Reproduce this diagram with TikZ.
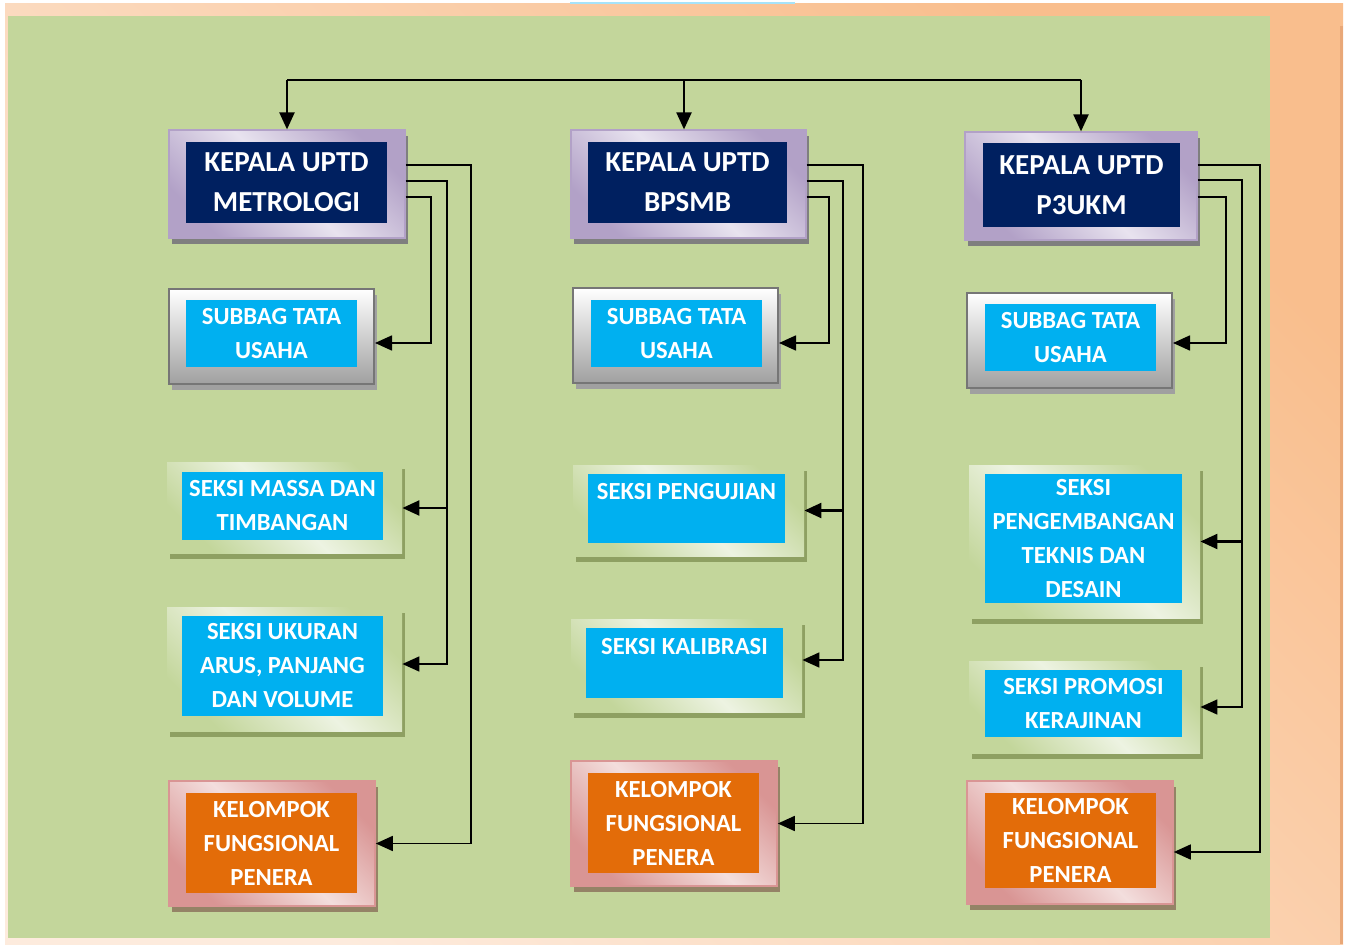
\documentclass[tikz,border=0pt]{standalone}
\usepackage{fontspec}
\setmainfont{Carlito}
\usetikzlibrary{arrows.meta,shadows}

\definecolor{panel}{HTML}{C3D69B}
\definecolor{peachdark}{HTML}{F9BE8D}
\definecolor{peachlight}{HTML}{FDEBDD}
\definecolor{peachedge}{HTML}{E9A878}
\definecolor{navy}{HTML}{002060}
\definecolor{cyanbox}{HTML}{00B0F0}
\definecolor{orangebox}{HTML}{E36C09}
\definecolor{headdark}{HTML}{B2A1C7}
\definecolor{headlight}{HTML}{E8E3EF}
\definecolor{headshade}{HTML}{7F7F7F}
\definecolor{subdark}{HTML}{A0A0A0}
\definecolor{subedge}{HTML}{767676}
\definecolor{seksidark}{HTML}{C3D69B}
\definecolor{seksilight}{HTML}{EDF3E2}
\definecolor{seksishade}{HTML}{8EA062}
\definecolor{keldark}{HTML}{D99594}
\definecolor{kellight}{HTML}{F3DEDD}
\definecolor{kelshade}{HTML}{948366}

\newcommand{\hdfont}{\fontsize{14.5}{20}\selectfont\bfseries}
\newcommand{\cellfnt}{\fontsize{12.3}{17}\selectfont\bfseries}

\begin{document}
\begin{tikzpicture}[x=0.5pt,y=-0.5pt,
  headbox/.style={draw=headdark, line width=0.6pt, top color=headdark, bottom color=headdark,
    middle color=headlight, shading angle=-45,
    drop shadow={shadow xshift=1.5pt, shadow yshift=-3pt, fill=headshade, opacity=1}},
  subbox/.style={draw=subedge, line width=1pt, top color=white, bottom color=subdark,
    drop shadow={shadow xshift=1.5pt, shadow yshift=-3pt, fill=subdark, opacity=1}},
  seksibox/.style={top color=seksidark, bottom color=seksidark, middle color=seksilight,
    shading angle=-45,
    drop shadow={shadow xshift=1.5pt, shadow yshift=-3pt, fill=seksishade, opacity=1}},
  kelbox/.style={draw=keldark, line width=0.8pt, top color=keldark, bottom color=keldark,
    middle color=kellight, shading angle=-45,
    drop shadow={shadow xshift=1.5pt, shadow yshift=-3pt, fill=kelshade, opacity=1}},
  headtext/.style={fill=navy, text=white, font=\hdfont, align=center, inner sep=0pt},
  celltext/.style={fill=cyanbox, text=white, font=\cellfnt, align=center, inner sep=0pt},
  keltext/.style={fill=orangebox, text=white, font=\cellfnt, align=center, inner sep=0pt},
  feed/.style={line width=0.8pt, -{Triangle[length=8.5pt,width=7.5pt]}},
  toarrow/.style={line width=1.1pt, -{Triangle[length=8.5pt,width=7.5pt]}},
  topline/.style={line width=1.3pt}
]
\useasboundingbox (0,0) rectangle (1349,946);
\fill[white] (0,0) rectangle (1349,946);

% frame and panel
\shade[top color=peachdark, bottom color=peachlight, shading angle=-45] (5,4) rectangle (1343,944);
\draw[peachedge, line width=1.5pt] (1341,26) -- (1341,944);
\draw[cyanbox!35!white, line width=1pt] (570,3) -- (795,3);
\fill[panel] (8,16) rectangle (1270,938);

% heads
\node[headbox, minimum width=118pt, minimum height=54pt] (km) at (287,184) {};
\node[headtext, minimum width=100.5pt, minimum height=40.5pt] (km-in) at (286.5,182.5) {KEPALA UPTD\\METROLOGI};
\node[headbox, minimum width=117.5pt, minimum height=54pt] (kb) at (688.5,184) {};
\node[headtext, minimum width=99.5pt, minimum height=40.5pt] (kb-in) at (687.5,182.5) {KEPALA UPTD\\BPSMB};
\node[headbox, minimum width=116pt, minimum height=54pt] (kp) at (1081,186) {};
\node[headtext, minimum width=98.5pt, minimum height=42pt] (kp-in) at (1081.5,185) {KEPALA UPTD\\P3UKM};

% column 1
\node[subbox, minimum width=102.5pt, minimum height=47.5pt] (su1) at (271.5,336.5) {};
\node[celltext, minimum width=85.5pt, minimum height=33.5pt] (su1-in) at (271.5,333.5) {SUBBAG TATA\\USAHA};
\node[seksibox, minimum width=117.5pt, minimum height=45pt] (massa1) at (284.5,508) {};
\node[celltext, minimum width=100.5pt, minimum height=34pt] (massa1-in) at (282.5,506) {SEKSI MASSA DAN\\TIMBANGAN};
\node[seksibox, minimum width=117.5pt, minimum height=62pt] (uk1) at (284.5,669) {};
\node[celltext, minimum width=100.5pt, minimum height=50pt] (uk1-in) at (282.5,666) {SEKSI UKURAN\\ARUS, PANJANG\\DAN VOLUME};
\node[kelbox, minimum width=103pt, minimum height=62.5pt] (kel1) at (272,843.5) {};
\node[keltext, minimum width=85.5pt, minimum height=50pt] (kel1-in) at (271.5,843) {KELOMPOK\\FUNGSIONAL\\PENERA};

% column 2
\node[subbox, minimum width=102.5pt, minimum height=47.5pt] (su2) at (675.5,335.5) {};
\node[celltext, minimum width=85.5pt, minimum height=33.5pt] (su2-in) at (676.5,333.5) {SUBBAG TATA\\USAHA};
\node[seksibox, minimum width=115.5pt, minimum height=45.5pt] (uji2) at (688.5,510.5) {};
\node[celltext, minimum width=98.5pt, minimum height=34.5pt] (uji2-in) at (686.5,508.5) {SEKSI PENGUJIAN\\\mbox{}};
\node[seksibox, minimum width=115.5pt, minimum height=46.5pt] (kal2) at (686.5,665.5) {};
\node[celltext, minimum width=98.5pt, minimum height=35pt] (kal2-in) at (684.5,663) {SEKSI KALIBRASI\\\mbox{}};
\node[kelbox, minimum width=103pt, minimum height=62.5pt] (kel2) at (674,823.5) {};
\node[keltext, minimum width=85.5pt, minimum height=50pt] (kel2-in) at (673.5,823) {KELOMPOK\\FUNGSIONAL\\PENERA};

% column 3
\node[subbox, minimum width=102.5pt, minimum height=47.5pt] (su3) at (1069.5,340.5) {};
\node[celltext, minimum width=85.5pt, minimum height=33.5pt] (su3-in) at (1070.5,337.5) {SUBBAG TATA\\USAHA};
\node[seksibox, minimum width=115.5pt, minimum height=76.5pt] (kemb3) at (1084.5,541.5) {};
\node[celltext, minimum width=98.5pt, minimum height=64.5pt] (kemb3-in) at (1083.5,538.5) {SEKSI\\PENGEMBANGAN\\TEKNIS DAN\\DESAIN};
\node[seksibox, minimum width=115.5pt, minimum height=46pt] (prom3) at (1084.5,707) {};
\node[celltext, minimum width=98.5pt, minimum height=33.5pt] (prom3-in) at (1083.5,703.5) {SEKSI PROMOSI\\KERAJINAN};
\node[kelbox, minimum width=103pt, minimum height=61.5pt] (kel3) at (1070,842.5) {};
\node[keltext, minimum width=85.5pt, minimum height=47.5pt] (kel3-in) at (1070.5,840.5) {KELOMPOK\\FUNGSIONAL\\PENERA};

% top line
\coordinate (top) at (684,80);
\draw[topline] (km.north |- top) -- (kp.north |- top);
\draw[toarrow] (km.north |- top) -- (km.north);
\draw[toarrow] (top) -- (top |- kb.north);
\draw[toarrow] (kp.north |- top) -- (kp.north);

% trunks
\coordinate (m1) at (431,197);
\coordinate (m2) at (447,181);
\coordinate (m3) at (471,165);
\coordinate (b1) at (829,197);
\coordinate (b2) at (843,181);
\coordinate (b3) at (863,165);
\coordinate (p1) at (1226,197);
\coordinate (p2) at (1242,180);
\coordinate (p3) at (1260,165);

\draw[feed] (km.east |- m1) -- (m1) |- ([yshift=-3.25pt]su1.east);
\draw[feed] (km.east |- m2) -- (m2) |- ([yshift=2.5pt]uk1.east);
\draw[toarrow] (massa1.east -| m2) -- (massa1.east);
\draw[feed] (km.east |- m3) -- (m3) |- (kel1.east);

\draw[feed] (kb.east |- b1) -- (b1) |- ([yshift=-3.75pt]su2.east);
\draw[feed] (kb.east |- b2) -- (b2) |- ([yshift=2.75pt]kal2.east);
\draw[toarrow] (uji2.east -| b2) -- (uji2.east);
\draw[feed] (kb.east |- b3) -- (b3) |- (kel2.east);

\draw[feed] (kp.east |- p1) -- (p1) |- ([yshift=-1.25pt]su3.east);
\draw[feed] (kp.east |- p2) -- (p2) |- (prom3.east);
\draw[toarrow] (kemb3.east -| p2) -- (kemb3.east);
\draw[feed] (kp.east |- p3) -- (p3) |- ([yshift=-4.75pt]kel3.east);
\end{tikzpicture}
\end{document}
